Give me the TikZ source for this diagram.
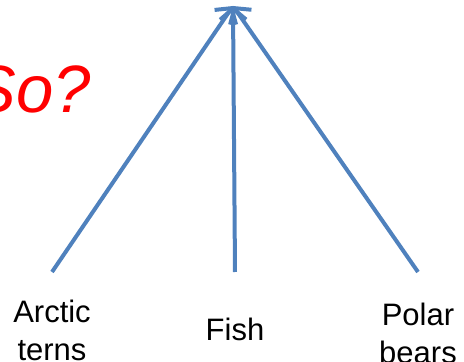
\documentclass[tikz,border=0pt]{standalone}
\usepackage{fontspec}
\setmainfont{Liberation Sans}
\usetikzlibrary{arrows.meta}
\definecolor{arrowblue}{RGB}{79,129,189}
\tikzset{
  flow/.style={arrowblue,line width=4pt,-{Straight Barb[length=11pt,width=26pt,line width=4pt]}},
  animal/.style={inner sep=0pt,anchor=north,align=center,font=\fontsize{31}{38}\selectfont}
}
\begin{document}
\begin{tikzpicture}[x=1pt,y=1pt]
  \useasboundingbox (0,0) rectangle (464,362);
  \node[anchor=base east,inner sep=0pt,text=red,font=\fontsize{67}{67}\selectfont\itshape] (so) at (91,249) {So?};
  \coordinate (apex) at (233,356);
  \node[animal,outer ysep=28pt] (terns) at (52,90) {Arctic\\terns};
  \node[animal,outer ysep=46pt] (fish) at (235,90) {Fish};
  \node[animal,outer ysep=31pt] (bears) at (418,90) {Polar\\bears};
  \draw[flow] (terns.north) -- (apex);
  \draw[flow] (fish.north) -- (apex);
  \draw[flow] (bears.north) -- (apex);
\end{tikzpicture}
\end{document}
